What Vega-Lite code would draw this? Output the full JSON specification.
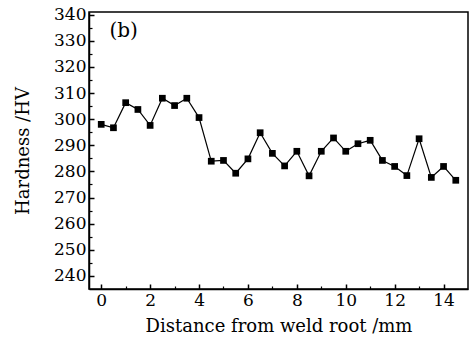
{
  "$schema": "https://vega.github.io/schema/vega-lite/v6.json",
  "width": 379,
  "height": 277,
  "autosize": {"type": "none"},
  "padding": {"left": 89, "top": 12, "right": 3, "bottom": 52},
  "background": "white",
  "config": {
    "view": {"stroke": "black", "strokeWidth": 1.5},
    "font": "DejaVu Serif",
    "axis": {
      "labelFont": "DejaVu Serif",
      "titleFont": "DejaVu Serif",
      "labelFontSize": 17,
      "titleFontSize": 18,
      "titleFontWeight": "normal",
      "labelColor": "black",
      "titleColor": "black",
      "domainColor": "black",
      "tickColor": "black",
      "grid": false
    }
  },
  "data": {
    "values": [
      {"d": 0, "hv": 298}, {"d": 0.5, "hv": 296.7}, {"d": 1, "hv": 306.3}, {"d": 1.5, "hv": 303.7},
      {"d": 2, "hv": 297.6}, {"d": 2.5, "hv": 308}, {"d": 3, "hv": 305.2}, {"d": 3.5, "hv": 308},
      {"d": 4, "hv": 300.6}, {"d": 4.5, "hv": 283.9}, {"d": 5, "hv": 284.2}, {"d": 5.5, "hv": 279.3},
      {"d": 6, "hv": 284.8}, {"d": 6.5, "hv": 294.8}, {"d": 7, "hv": 286.9}, {"d": 7.5, "hv": 282.1},
      {"d": 8, "hv": 287.7}, {"d": 8.5, "hv": 278.3}, {"d": 9, "hv": 287.7}, {"d": 9.5, "hv": 292.8},
      {"d": 10, "hv": 287.7}, {"d": 10.5, "hv": 290.6}, {"d": 11, "hv": 291.9}, {"d": 11.5, "hv": 284.2},
      {"d": 12, "hv": 281.9}, {"d": 12.5, "hv": 278.4}, {"d": 13, "hv": 292.5}, {"d": 13.5, "hv": 277.7},
      {"d": 14, "hv": 281.9}, {"d": 14.5, "hv": 276.6}
    ]
  },
  "layer": [
    {
      "mark": {"type": "line", "color": "black", "strokeWidth": 1.2},
      "encoding": {
        "x": {
          "field": "d", "type": "quantitative",
          "scale": {"domain": [-0.5, 15], "nice": false, "zero": false},
          "axis": {
            "title": "Distance from weld root /mm",
            "orient": "bottom",
            "values": [0, 2, 4, 6, 8, 10, 12, 14],
            "tickSize": -5, "tickWidth": 1.5, "domainWidth": 1.5,
            "labelPadding": 8, "titlePadding": 9
          }
        },
        "y": {
          "field": "hv", "type": "quantitative",
          "scale": {"domain": [235, 341], "nice": false, "zero": false},
          "axis": {
            "title": "Hardness /HV",
            "orient": "left",
            "values": [240, 250, 260, 270, 280, 290, 300, 310, 320, 330, 340],
            "tickSize": -5, "tickWidth": 1.5, "domainWidth": 1.5,
            "labelPadding": 8, "titlePadding": 21
          }
        }
      }
    },
    {
      "mark": {"type": "point", "shape": "square", "filled": true, "color": "black", "size": 45, "opacity": 1},
      "encoding": {
        "x": {"field": "d", "type": "quantitative",
          "scale": {"domain": [-0.5, 15], "nice": false, "zero": false},
          "axis": {"orient": "bottom", "values": [1, 3, 5, 7, 9, 11, 13], "labels": false, "title": null, "domain": false, "tickSize": -3, "tickWidth": 1.2}},
        "y": {"field": "hv", "type": "quantitative",
          "scale": {"domain": [235, 341], "nice": false, "zero": false},
          "axis": {"orient": "left", "values": [245, 255, 265, 275, 285, 295, 305, 315, 325, 335], "labels": false, "title": null, "domain": false, "tickSize": -3, "tickWidth": 1.2}}
      }
    },
    {
      "data": {"values": [{"d": 0.92, "hv": 333.7, "t": "(b)"}]},
      "mark": {"type": "text", "font": "DejaVu Serif", "fontSize": 20, "color": "black", "align": "center", "baseline": "middle"},
      "encoding": {
        "x": {"field": "d", "type": "quantitative", "scale": {"domain": [-0.5, 15], "nice": false, "zero": false}, "axis": null},
        "y": {"field": "hv", "type": "quantitative", "scale": {"domain": [235, 341], "nice": false, "zero": false}, "axis": null},
        "text": {"field": "t"}
      }
    }
  ],
  "resolve": {"axis": {"x": "independent", "y": "independent"}}
}
